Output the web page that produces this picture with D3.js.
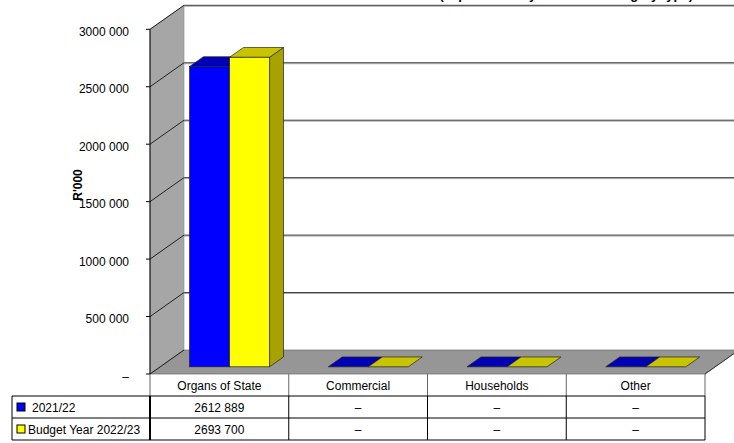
<!DOCTYPE html>
<html>
<head>
<meta charset="utf-8">
<script src="https://cdn.jsdelivr.net/npm/d3@7"></script>
<style>
  html, body { margin: 0; padding: 0; background: #fff; }
  svg { display: block; font-family: "Liberation Sans", Arial, sans-serif; }
</style>
</head>
<body>
<svg id="chart" width="734" height="443"></svg>
<script>
// ---- data ----
const categories = ["Organs of State", "Commercial", "Households", "Other"];
const seriesNames = ["2021/22", "Budget Year 2022/23"];
const values2021 = [2612889, 0, 0, 0];
const valuesBudget2022 = [2693700, 0, 0, 0];
const yTicks = [0, 500000, 1000000, 1500000, 2000000, 2500000, 3000000];
const yLabel = "R'000";
const title = "Transfers and subsidies (expenditure by economic category/type)";

// ---- styles ----
const frontColors = ["#0000ff", "#ffff00"];
const topColors = ["#0000b4", "#c8c400"];
const sideColors = ["#00008a", "#a6a300"];

const svg = d3.select("#chart");

// plot geometry
const pLeft = 150, pRight = 705, pBottom = 374, pTop = 29.3;
const depthX = 34, depthY = -24;
const off = z => [depthX * z, depthY * z];

const x = d3.scaleBand().domain(categories).range([pLeft, pRight]);
const y = d3.scaleLinear().domain([0, 3000000]).range([pBottom, pTop]);
const groupW = 80;
const x1 = d3.scaleBand().domain(seriesNames).range([x.bandwidth() / 2 - groupW / 2, x.bandwidth() / 2 + groupW / 2]);

const fmt = v => {
  if (v === 0) return "\u2013";
  const th = Math.floor(v / 1000), rest = v % 1000;
  return th > 0 ? th + " " + String(rest).padStart(3, "0") : String(rest);
};

const P = pts => pts.map(p => p.join(",")).join(" ");

// title (clipped at top edge in the reference)
svg.append("text").attr("x", 490).attr("y", -1.5)
  .attr("text-anchor", "middle").attr("font-size", 13).attr("font-weight", "bold")
  .attr("fill", "#000").text(title);

// back wall
const [bx, by] = off(1);
svg.append("polygon")
  .attr("points", P([[pLeft + bx, pTop + by], [pRight + bx, pTop + by], [pRight + bx, pBottom + by], [pLeft + bx, pBottom + by]]))
  .attr("fill", "#ffffff");

// back wall gridlines
yTicks.filter(t => t > 0).forEach(t => {
  svg.append("line").attr("x1", pLeft + bx).attr("x2", pRight + bx)
    .attr("y1", y(t) + by + 1).attr("y2", y(t) + by + 1)
    .attr("stroke", "#b0b0b0").attr("stroke-width", 1);
  svg.append("line").attr("x1", pLeft + bx).attr("x2", pRight + bx)
    .attr("y1", y(t) + by).attr("y2", y(t) + by)
    .attr("stroke", "#3a3a3a").attr("stroke-width", 1);
});

// left wall
svg.append("polygon")
  .attr("points", P([[pLeft, pTop], [pLeft + bx, pTop + by], [pLeft + bx, pBottom + by], [pLeft, pBottom]]))
  .attr("fill", "#a6a6a6").attr("stroke", "#8a8a8a").attr("stroke-width", 0.6);

yTicks.filter(t => t > 0).forEach(t => {
  svg.append("line").attr("x1", pLeft).attr("y1", y(t))
    .attr("x2", pLeft + bx).attr("y2", y(t) + by)
    .attr("stroke", "#222").attr("stroke-width", 1);
});

// floor
svg.append("polygon")
  .attr("points", P([[pLeft, pBottom], [pRight, pBottom], [pRight + bx, pBottom + by], [pLeft + bx, pBottom + by]]))
  .attr("fill", "#969696").attr("stroke", "#6a6a6a").attr("stroke-width", 0.7);
svg.append("line").attr("x1", pLeft).attr("y1", pBottom).attr("x2", pLeft + bx).attr("y2", pBottom + by)
  .attr("stroke", "#222").attr("stroke-width", 1);
svg.append("line").attr("x1", pRight).attr("y1", pBottom).attr("x2", pRight + bx).attr("y2", pBottom + by)
  .attr("stroke", "#333").attr("stroke-width", 1);

// bars
const zf = 0.3, zb = 0.71;
const [fdx, fdy] = off(zf);
const [bdx, bdy] = off(zb);
const series = [values2021, valuesBudget2022];
const barG = svg.append("g");
categories.forEach((c, ci) => {
  seriesNames.forEach((s, si) => {
    const v = series[si][ci];
    const x0 = x(c) + x1(s), x2 = x0 + x1.bandwidth();
    const yt = y(v), yb = y(0);
    const g = barG.append("g");
    if (v > 0) {
      g.append("polygon")
        .attr("points", P([[x2 + fdx, yt + fdy], [x2 + bdx, yt + bdy], [x2 + bdx, yb + bdy], [x2 + fdx, yb + fdy]]))
        .attr("fill", sideColors[si]).attr("stroke", "#222").attr("stroke-width", 0.7);
    }
    g.append("polygon")
      .attr("points", P([[x0 + fdx, yt + fdy], [x2 + fdx, yt + fdy], [x2 + bdx, yt + bdy], [x0 + bdx, yt + bdy]]))
      .attr("fill", topColors[si]).attr("stroke", "#222").attr("stroke-width", 0.7);
    if (v > 0) {
      g.append("rect").attr("x", x0 + fdx).attr("y", yt + fdy)
        .attr("width", x2 - x0).attr("height", yb - yt)
        .attr("fill", frontColors[si]).attr("stroke", "#222").attr("stroke-width", 0.7);
    }
  });
});

// y axis
svg.append("line").attr("x1", pLeft).attr("x2", pLeft).attr("y1", pTop).attr("y2", pBottom)
  .attr("stroke", "#000").attr("stroke-width", 1);
const yAxis = svg.append("g");
yTicks.forEach(t => {
  yAxis.append("line").attr("x1", pLeft - 4).attr("x2", pLeft).attr("y1", y(t)).attr("y2", y(t))
    .attr("stroke", "#000").attr("stroke-width", 1);
  yAxis.append("text").attr("x", 129).attr("y", y(t) + 2.5).attr("dy", "0.35em")
    .attr("text-anchor", "end").attr("font-size", 12).attr("fill", "#000")
    .text(fmt(t));
});
svg.append("text").attr("transform", "translate(82,185) rotate(-90)")
  .attr("text-anchor", "middle").attr("font-size", 12).attr("font-weight", "bold")
  .text(yLabel);

// data table
const rowTop = 374, hdrH = 22, rowH = 22, tblLeft = 12;
const tbl = svg.append("g");
categories.forEach(c => {
  tbl.append("text").attr("x", x(c) + x.bandwidth() / 2).attr("y", rowTop + hdrH / 2 + 1).attr("dy", "0.35em")
    .attr("text-anchor", "middle").attr("font-size", 12).text(c);
});
categories.forEach(c => {
  tbl.append("line").attr("x1", x(c) + x.bandwidth()).attr("x2", x(c) + x.bandwidth())
    .attr("y1", rowTop).attr("y2", rowTop + hdrH).attr("stroke", "#666").attr("stroke-width", 1);
});
tbl.append("line").attr("x1", pLeft).attr("x2", pLeft).attr("y1", rowTop).attr("y2", rowTop + hdrH)
  .attr("stroke", "#666").attr("stroke-width", 1);

seriesNames.forEach((s, si) => {
  const ry = rowTop + hdrH + si * rowH;
  tbl.append("rect").attr("x", 17).attr("y", ry + 7).attr("width", 8).attr("height", 8)
    .attr("fill", frontColors[si]).attr("stroke", "#000").attr("stroke-width", 1);
  tbl.append("text").attr("x", si === 0 ? 32 : 28).attr("y", ry + rowH / 2 + 1).attr("dy", "0.35em")
    .attr("font-size", 12).text(s);
  categories.forEach((c, ci) => {
    tbl.append("text").attr("x", x(c) + x.bandwidth() / 2).attr("y", ry + rowH / 2 + 1).attr("dy", "0.35em")
      .attr("text-anchor", "middle").attr("font-size", 12).text(fmt(series[si][ci]));
  });
});
const tTop = rowTop + hdrH, tBot = tTop + 2 * rowH;
[tTop, tTop + rowH, tBot].forEach(yy => {
  tbl.append("line").attr("x1", tblLeft).attr("x2", pRight).attr("y1", yy).attr("y2", yy)
    .attr("stroke", "#000").attr("stroke-width", 1);
});
tbl.append("line").attr("x1", tblLeft).attr("x2", tblLeft).attr("y1", tTop).attr("y2", tBot).attr("stroke", "#000");
tbl.append("line").attr("x1", pLeft).attr("x2", pLeft).attr("y1", tTop).attr("y2", tBot)
  .attr("stroke", "#000").attr("stroke-width", 2);
categories.forEach(c => {
  tbl.append("line").attr("x1", x(c) + x.bandwidth()).attr("x2", x(c) + x.bandwidth())
    .attr("y1", tTop).attr("y2", tBot).attr("stroke", "#000").attr("stroke-width", 1);
});
</script>
</body>
</html>
